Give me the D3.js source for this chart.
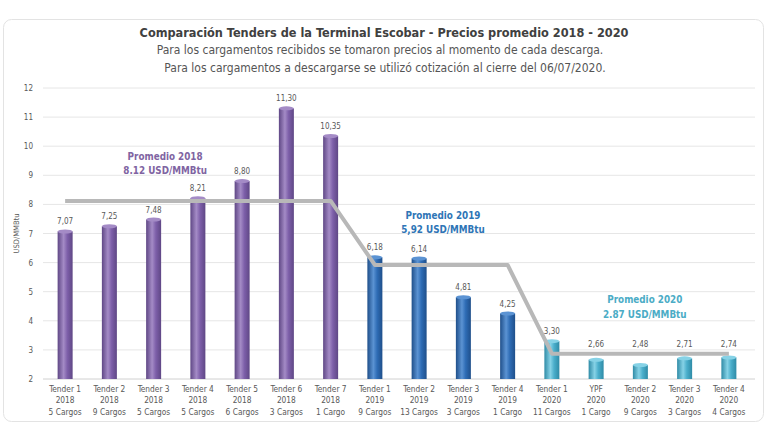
<!DOCTYPE html>
<html>
<head>
<meta charset="utf-8">
<script src="https://cdn.jsdelivr.net/npm/d3@7"></script>
<style>
  body { margin: 0; background: #fff; }
  text { font-family: "DejaVu Sans Condensed", "Liberation Sans Narrow", "Open Sans", sans-serif; }
</style>
</head>
<body>
<div id="chart"></div>
<script>
// Data
var tenders = ["Tender 1", "Tender 2", "Tender 3", "Tender 4", "Tender 5", "Tender 6", "Tender 7",
  "Tender 1", "Tender 2", "Tender 3", "Tender 4",
  "Tender 1", "YPF", "Tender 2", "Tender 3", "Tender 4"];
var years = ["2018", "2018", "2018", "2018", "2018", "2018", "2018",
  "2019", "2019", "2019", "2019",
  "2020", "2020", "2020", "2020", "2020"];
var cargos = ["5 Cargos", "9 Cargos", "5 Cargos", "5 Cargos", "6 Cargos", "3 Cargos", "1 Cargo",
  "9 Cargos", "13 Cargos", "3 Cargos", "1 Cargo",
  "11 Cargos", "1 Cargo", "9 Cargos", "3 Cargos", "4 Cargos"];
var prices = [7.07, 7.25, 7.48, 8.21, 8.80, 11.30, 10.35,
  6.18, 6.14, 4.81, 4.25,
  3.30, 2.66, 2.48, 2.71, 2.74];
var averages = [
  { year: "2018", from: 0, to: 6, value: 8.12, title: "Promedio 2018", label: "8.12 USD/MMBtu" },
  { year: "2019", from: 7, to: 10, value: 5.92, title: "Promedio 2019", label: "5,92 USD/MMBtu" },
  { year: "2020", from: 11, to: 15, value: 2.87, title: "Promedio 2020", label: "2.87 USD/MMBtu" }
];
var yTicks = [2, 3, 4, 5, 6, 7, 8, 9, 10, 11, 12];

var colors = { "2018": "#7d5fa9", "2019": "#2e6cb5", "2020": "#4aaecb" };
var lightColors = { "2018": "#a48bc6", "2019": "#5b93d3", "2020": "#86d2e6" };
var darkColors = { "2018": "#5f4785", "2019": "#1f4f8a", "2020": "#2f8ba6" };
var textColors = { "2018": "#8064a2", "2019": "#2e75b6", "2020": "#4bacc6" };

var svgWidth = 768, svgHeight = 436;
var margin = { top: 88, left: 43, right: 18, bottom: 57 };
var width = svgWidth - margin.left - margin.right;
var height = svgHeight - margin.top - margin.bottom;

var svg = d3.select("#chart").append("svg")
  .attr("width", svgWidth)
  .attr("height", svgHeight);

// frame
svg.append("rect")
  .attr("x", 3.5).attr("y", 19.5)
  .attr("width", 760).attr("height", 402)
  .attr("rx", 8)
  .attr("fill", "#fff")
  .attr("stroke", "#e3e3e3");

// titles
svg.append("text")
  .attr("x", 384).attr("y", 37)
  .attr("text-anchor", "middle")
  .attr("font-size", 12.6).attr("font-weight", "bold")
  .attr("fill", "#404040")
  .text("Comparación  Tenders de la Terminal  Escobar - Precios promedio 2018 - 2020");
svg.append("text")
  .attr("x", 380).attr("y", 54)
  .attr("text-anchor", "middle")
  .attr("font-size", 12).attr("fill", "#555")
  .text("Para los cargamentos recibidos se tomaron precios al momento de cada descarga.");
svg.append("text")
  .attr("x", 385).attr("y", 72)
  .attr("text-anchor", "middle")
  .attr("font-size", 12).attr("fill", "#555")
  .text("Para los cargamentos a descargarse se utilizó cotización al cierre del 06/07/2020.");

var chartGroup = svg.append("g")
  .attr("transform", `translate(${margin.left}, ${margin.top})`);

var xScale = d3.scaleBand()
  .domain(d3.range(prices.length))
  .range([0, 708]);

var yScale = d3.scaleLinear()
  .domain([2, 12])
  .range([height, 0]);

// gridlines
chartGroup.selectAll(".grid")
  .data(yTicks)
  .enter()
  .append("line")
  .attr("x1", 0).attr("x2", 712)
  .attr("y1", d => yScale(d)).attr("y2", d => yScale(d))
  .attr("stroke", d => d === 2 ? "#d0d0d0" : "#e6e6e6")
  .attr("stroke-width", 1);

// y axis
var leftAxis = d3.axisLeft(yScale).tickValues(yTicks).tickSize(0).tickPadding(10);
var yAxisG = chartGroup.append("g").call(leftAxis);
yAxisG.select(".domain").remove();
yAxisG.selectAll("text")
  .attr("font-size", 8)
  .attr("fill", "#595959")
  .style("font-family", "'DejaVu Sans Condensed', sans-serif");

chartGroup.append("text")
  .attr("transform", "rotate(-90)")
  .attr("x", -(yScale(7)))
  .attr("y", -24)
  .attr("text-anchor", "middle")
  .attr("font-size", 7.5)
  .attr("fill", "#595959")
  .text("USD/MMBtu");

// gradients for cylinder look
var defs = svg.append("defs");
Object.keys(colors).forEach(function(k) {
  var g = defs.append("linearGradient").attr("id", "grad" + k)
    .attr("x1", "0").attr("x2", "1").attr("y1", "0").attr("y2", "0");
  g.append("stop").attr("offset", "0%").attr("stop-color", darkColors[k]);
  g.append("stop").attr("offset", "40%").attr("stop-color", lightColors[k]);
  g.append("stop").attr("offset", "65%").attr("stop-color", colors[k]);
  g.append("stop").attr("offset", "100%").attr("stop-color", darkColors[k]);
});

// average of the group a bar belongs to
function avgFor(i) {
  return averages.find(a => i >= a.from && i <= a.to).value;
}

var barW = 15;
var bars = chartGroup.selectAll(".bar")
  .data(prices)
  .enter()
  .append("g");

bars.append("rect")
  .attr("x", (d, i) => xScale(i) + xScale.bandwidth() / 2 - barW / 2)
  .attr("y", d => yScale(d))
  .attr("width", barW)
  .attr("height", d => yScale(2) - yScale(d))
  .attr("fill", (d, i) => "url(#grad" + years[i] + ")");

bars.append("ellipse")
  .attr("cx", (d, i) => xScale(i) + xScale.bandwidth() / 2)
  .attr("cy", d => yScale(d))
  .attr("rx", barW / 2)
  .attr("ry", 2)
  .attr("fill", (d, i) => lightColors[years[i]]);

// labels just under the average line are lifted above it
bars.append("text")
  .attr("x", (d, i) => xScale(i) + xScale.bandwidth() / 2)
  .attr("y", function(d, i) {
    var a = avgFor(i);
    if (d < a && a - d < 0.5) return yScale(a) - 7;
    return yScale(d) - 7;
  })
  .attr("text-anchor", "middle")
  .attr("font-size", 8)
  .attr("fill", "#595959")
  .text(d => d.toFixed(2).replace(".", ","));

// average line
var linePts = [];
averages.forEach(function(a) {
  linePts.push([a.from, a.value]);
  linePts.push([a.to, a.value]);
});
var line = d3.line()
  .x(d => xScale(d[0]) + xScale.bandwidth() / 2)
  .y(d => yScale(d[1]));
chartGroup.append("path")
  .datum(linePts)
  .attr("d", line)
  .attr("fill", "none")
  .attr("stroke", "#b8b8b8")
  .attr("stroke-width", 4)
  .attr("stroke-linejoin", "round");

// average annotations (band position, value)
var annoPos = { "2018": [2.26, 9.53], "2019": [8.54, 7.5], "2020": [13.1, 4.6] };
averages.forEach(function(a) {
  var p = annoPos[a.year];
  var x = xScale.step() * (p[0] + 0.5);
  var t = chartGroup.append("text")
    .attr("x", x)
    .attr("y", yScale(p[1]))
    .attr("text-anchor", "middle")
    .attr("font-size", 9.8)
    .attr("font-weight", "bold")
    .attr("fill", textColors[a.year]);
  t.append("tspan").attr("x", x).text(a.title);
  t.append("tspan").attr("x", x).attr("dy", 14.5).text(a.label);
});

// x labels
var xLab = chartGroup.selectAll(".xlab")
  .data(prices)
  .enter()
  .append("text")
  .attr("text-anchor", "middle")
  .attr("font-size", 8.3)
  .attr("fill", "#595959")
  .attr("y", height + 13);
[tenders, years, cargos].forEach(function(arr, j) {
  xLab.append("tspan")
    .attr("x", (d, i) => xScale(i) + xScale.bandwidth() / 2)
    .attr("dy", j === 0 ? 0 : 11.3)
    .text((d, i) => arr[i]);
});
</script>
</body>
</html>
